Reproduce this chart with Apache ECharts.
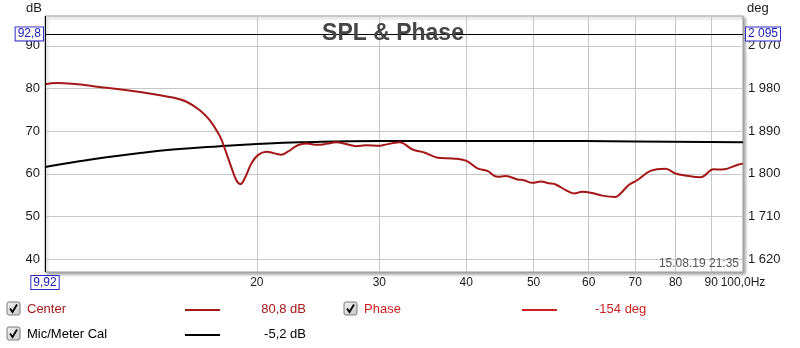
<!DOCTYPE html>
<html><head><meta charset="utf-8">
<script src="https://cdn.jsdelivr.net/npm/echarts@6/dist/echarts.min.js"></script>
<style>html,body{margin:0;padding:0;background:#fff}#c{width:800px;height:348px}</style>
</head><body><div id="c"></div>
<script>
// ---- data ----
const centerFreq = [9.92,10.31,12.16,13.58,15.14,15.85,16.56,17.11,17.69,17.88,18.38,18.69,18.94,19.21,19.64,20.07,20.64,21.21,21.68,22.16,22.91,23.55,24.47,25.29,26.00,26.88,27.78,28.72,30.01,30.33,32.06,33.50,34.82,36.38,38.23,39.96,41.52,42.91,44.35,45.60,47.38,48.44,49.79,51.19,52.61,53.79,55.60,57.14,58.73,60.70,62.74,65.58,66.67,68.52,70.43,73.62,77.36,79.96,82.64,86.84,90.75,93.27,98.55,100];
const centerDb   = [81.0,81.3,80.2,79.2,77.9,76.9,74.9,72.6,68.9,67.1,61.6,58.5,57.6,58.9,62.4,64.4,65.2,64.8,64.5,65.2,66.7,67.1,66.8,67.1,67.4,67.0,66.5,66.7,66.6,66.7,67.4,65.7,65.0,63.8,63.6,63.1,61.3,60.7,59.3,59.5,58.7,58.5,57.9,58.2,57.8,57.5,56.2,55.4,55.8,55.5,54.9,54.6,55.4,57.4,58.5,60.7,61.2,60.1,59.6,59.2,61.1,61.0,62.2,62.4];
const calFreq = [9.92,10.89,12.16,13.58,15.14,17.69,20.0,23.04,30.0,50.0,70.0,100];
const calDb   = [61.6,62.7,63.9,64.9,65.7,66.5,67.0,67.4,67.7,67.7,67.6,67.4];
const xTickValues = [20,30,40,50,60,70,80,90];
const xEndValue = 100;
const xEndLabel = '100,0Hz';
const dbTicks = [40,50,60,70,80,90];
const degTicks = [1620,1710,1800,1890,1980,2070];
const dbRange = [37, 97];
const degRange = [1593, 2133];
const cursorFreq = [9.92, '9,92'];
const cursorDb = [92.8, '92,8'];
const cursorDeg = [2095, '2 095'];
const legendNames = ['Center', 'Phase', 'Mic/Meter Cal'];
const legendValues = ['80,8 dB', '-154 deg', '-5,2 dB'];
const legendColors = ['#a51818', '#cc2020', '#000000'];
const titleText = 'SPL & Phase';
const dateText = '15.08.19 21:35';

// ---- chart ----
const FONT = '"Liberation Sans", Arial, sans-serif';
const zip = (a, b) => a.map((v, i) => [v, b[i]]);
const fmtThousands = v => { const s = String(Math.round(v)); return s.length > 3 ? s.slice(0, s.length - 3) + ' ' + s.slice(-3) : s; };
const boxLabel = {
  color: '#1818b0', fontSize: 12, fontFamily: FONT, backgroundColor: '#fff',
  borderColor: '#2a2ac8', borderWidth: 1, padding: [1, 2, 0, 2]
};

const chart = echarts.init(document.getElementById('c'), null, {renderer: 'canvas'});

function checkbox(x, y) {
  return {
    type: 'group', x: x, y: y, z: 100,
    children: [
      {type: 'rect', shape: {x: 0, y: 0, width: 13, height: 13, r: 2},
       style: {fill: new echarts.graphic.LinearGradient(0, 0, 1, 1, [{offset: 0, color: '#f4f4f4'}, {offset: 1, color: '#c8c8c8'}]), stroke: '#7a7a7a', lineWidth: 1}},
      {type: 'polyline', shape: {points: [[3, 6.5], [5.5, 10], [10, 2.5]]},
       style: {stroke: '#000', lineWidth: 1.8, fill: null}}
    ]
  };
}

const legendLayout = [
  {cbx: 7, tx: 27, lx: 185, vx: 306, y: 309, align: 'right'},
  {cbx: 344, tx: 364, lx: 522, vx: 595, y: 309, align: 'left'},
  {cbx: 7, tx: 27, lx: 185, vx: 306, y: 334, align: 'right'}
];
const legendGraphics = [];
legendNames.forEach((name, i) => {
  const L = legendLayout[i];
  legendGraphics.push(checkbox(L.cbx, L.y - 7));
  legendGraphics.push({type: 'text', x: L.tx, y: L.y, z: 100,
    style: {text: name, fill: legendColors[i], font: '13px ' + FONT, textVerticalAlign: 'middle'}});
  legendGraphics.push({type: 'line', z: 100, shape: {x1: L.lx, y1: L.y + 1, x2: L.lx + 35, y2: L.y + 1},
    style: {stroke: legendColors[i], lineWidth: 2}});
  legendGraphics.push({type: 'text', x: L.vx, y: L.y, z: 100,
    style: {text: legendValues[i], fill: legendColors[i], font: '13px ' + FONT, textAlign: L.align, textVerticalAlign: 'middle'}});
});

const option = {
  animation: false,
  backgroundColor: '#fff',
  textStyle: {fontFamily: FONT},
  grid: {
    left: 45, right: 57, top: 16, bottom: 76, outerBoundsMode: 'none', containLabel: false,
    show: true, backgroundColor: '#fff', borderColor: '#9c9c9c', borderWidth: 1,
    shadowColor: 'rgba(0,0,0,0.35)', shadowBlur: 3, shadowOffsetX: 2, shadowOffsetY: 2
  },
  xAxis: {
    type: 'log', logBase: 10, min: cursorFreq[0], max: xEndValue,
    axisLine: {show: false},
    axisTick: {show: false, customValues: xTickValues},
    splitLine: {show: true, lineStyle: {color: '#c6c6c6', width: 1}},
    minorTick: {show: false}, minorSplitLine: {show: false},
    axisLabel: {
      customValues: xTickValues.concat([xEndValue]), margin: 5,
      color: '#1a1a1a', fontSize: 12, fontFamily: FONT,
      formatter: v => (Math.abs(v - xEndValue) < 1e-6 ? xEndLabel : String(Math.round(v)))
    }
  },
  yAxis: [
    {
      type: 'value', min: dbRange[0], max: dbRange[1],
      axisLine: {show: false},
      axisTick: {show: false, customValues: dbTicks},
      splitLine: {show: true, lineStyle: {color: '#c6c6c6', width: 1}},
      axisLabel: {customValues: dbTicks, margin: 5, color: '#1a1a1a', fontSize: 13, fontFamily: FONT}
    },
    {
      type: 'value', min: degRange[0], max: degRange[1], position: 'right',
      axisLine: {show: false},
      axisTick: {show: false, customValues: degTicks},
      splitLine: {show: false},
      axisLabel: {customValues: degTicks, margin: 5, color: '#1a1a1a', fontSize: 13, fontFamily: FONT,
        formatter: v => fmtThousands(v)}
    }
  ],
  series: [
    {
      name: legendNames[0], type: 'line', yAxisIndex: 0, data: zip(centerFreq, centerDb),
      showSymbol: false, smooth: 0.4, z: 4,
      lineStyle: {color: '#a51616', width: 2}, itemStyle: {color: '#a51616'}
    },
    {
      name: legendNames[2], type: 'line', yAxisIndex: 0, data: zip(calFreq, calDb),
      showSymbol: false, smooth: 0.5, z: 3,
      lineStyle: {color: '#000', width: 2}, itemStyle: {color: '#000'},
      markLine: {
        silent: true, symbol: ['none', 'none'], animation: false,
        lineStyle: {color: '#000', width: 1, type: 'solid'},
        data: [
          {yAxis: cursorDb[0], label: Object.assign({show: true, position: 'start', distance: 2, formatter: cursorDb[1]}, boxLabel)},
          {yAxis: cursorDb[0], label: Object.assign({show: true, position: 'end', distance: 3, formatter: cursorDeg[1]}, boxLabel)},
          {xAxis: cursorFreq[0], label: Object.assign({show: true, position: 'start', distance: 4, formatter: cursorFreq[1]}, boxLabel)}
        ]
      }
    }
  ],
  graphic: [
    {type: 'text', x: 393, y: 34, z: 50,
     style: {text: titleText, fill: '#454545', font: 'bold 23px ' + FONT, textAlign: 'center', textVerticalAlign: 'middle'}},
    {type: 'text', x: 42, y: 8, z: 50,
     style: {text: 'dB', fill: '#1a1a1a', font: '13px ' + FONT, textAlign: 'right', textVerticalAlign: 'middle'}},
    {type: 'text', x: 747, y: 8, z: 50,
     style: {text: 'deg', fill: '#1a1a1a', font: '13px ' + FONT, textAlign: 'left', textVerticalAlign: 'middle'}},
    {type: 'text', x: 739, y: 264, z: 50,
     style: {text: dateText, fill: '#555', font: '12px ' + FONT, textAlign: 'right', textVerticalAlign: 'middle'}}
  ].concat(legendGraphics)
};
chart.setOption(option);
</script>
</body></html>
